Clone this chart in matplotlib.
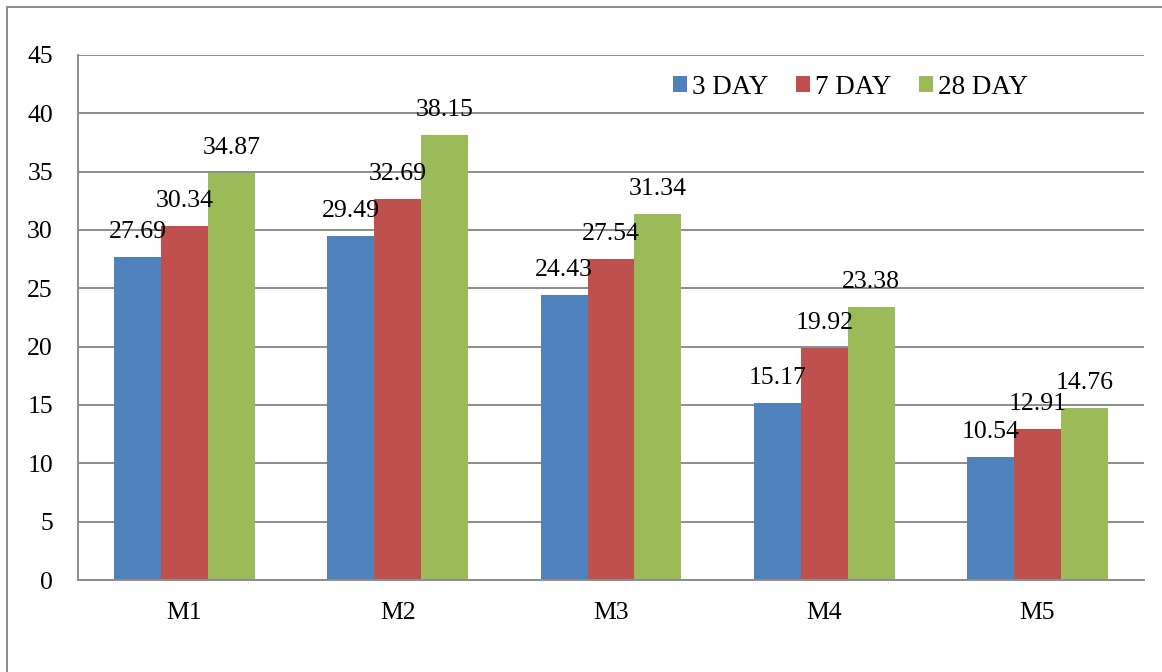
import matplotlib
matplotlib.use("Agg")
import matplotlib.pyplot as plt
from matplotlib.lines import Line2D
from matplotlib.patches import Patch
import numpy as np

categories = ["M1", "M2", "M3", "M4", "M5"]
series_names = ["3 DAY", "7 DAY", "28 DAY"]
day3 = [27.69, 29.49, 24.43, 15.17, 10.54]
day7 = [30.34, 32.69, 27.54, 19.92, 12.91]
day28 = [34.87, 38.15, 31.34, 23.38, 14.76]
y_ticks = [0, 5, 10, 15, 20, 25, 30, 35, 40, 45]

colors = ["#4F81BD", "#C0504D", "#9BBB59"]
grid_color = "#8C8C8C"
font = "Liberation Serif"
fs = 18.5
legend_fs = 19.5

plt.rcParams["font.family"] = [font, "DejaVu Serif"]

fig = plt.figure(figsize=(11.62, 6.72), dpi=100)
ax = fig.add_axes([0.0671, 0.1369, 0.9845 - 0.0671, 0.9182 - 0.1369])

x = np.arange(len(categories))
width = 0.22
offsets = [-width, 0.0, width]

for vals, off, col in zip([day3, day7, day28], offsets, colors):
    bars = ax.bar(x + off, vals, width=width, color=col, zorder=3, linewidth=0)
    for rect, v in zip(bars, vals):
        ax.annotate(f"{v:.2f}", (rect.get_x() + rect.get_width() / 2, v),
                    xytext=(0, 18), textcoords="offset points",
                    ha="center", va="center", fontsize=fs, zorder=5)

ax.set_xlim(-0.5, len(categories) - 0.5)
ax.set_ylim(0, 45)
ax.set_yticks(y_ticks)
ax.set_yticklabels([str(t) for t in y_ticks], fontsize=fs)
ax.set_xticks(x)
ax.set_xticklabels(categories, fontsize=fs)
ax.tick_params(axis="both", length=0)
ax.tick_params(axis="y", pad=18)
ax.tick_params(axis="x", pad=16)

ax.yaxis.grid(True, color=grid_color, linewidth=1.4, zorder=1)
for side in ["top", "right"]:
    ax.spines[side].set_visible(False)
ax.spines["left"].set_color(grid_color)
ax.spines["left"].set_linewidth(1.4)
ax.spines["bottom"].set_color(grid_color)
ax.spines["bottom"].set_linewidth(1.4)
ax.spines["bottom"].set_zorder(4)

handles = [Patch(facecolor=c, edgecolor="none") for c in colors]
fig.legend(handles, series_names, loc="center left",
           bbox_to_anchor=(673 / 1162, 1 - 87 / 672), ncol=3, frameon=False,
           fontsize=legend_fs, handlelength=0.52, handleheight=0.52,
           handletextpad=0.2, columnspacing=1.0, borderpad=0, borderaxespad=0)

# outer frame on left and top edges
fig.add_artist(Line2D([6.5 / 1162, 6.5 / 1162], [0, 1 - 6.5 / 672],
                      transform=fig.transFigure, color=grid_color, linewidth=1.4))
fig.add_artist(Line2D([6.5 / 1162, 1], [1 - 6.5 / 672, 1 - 6.5 / 672],
                      transform=fig.transFigure, color=grid_color, linewidth=1.4))

fig.savefig("out.png", dpi=100)
